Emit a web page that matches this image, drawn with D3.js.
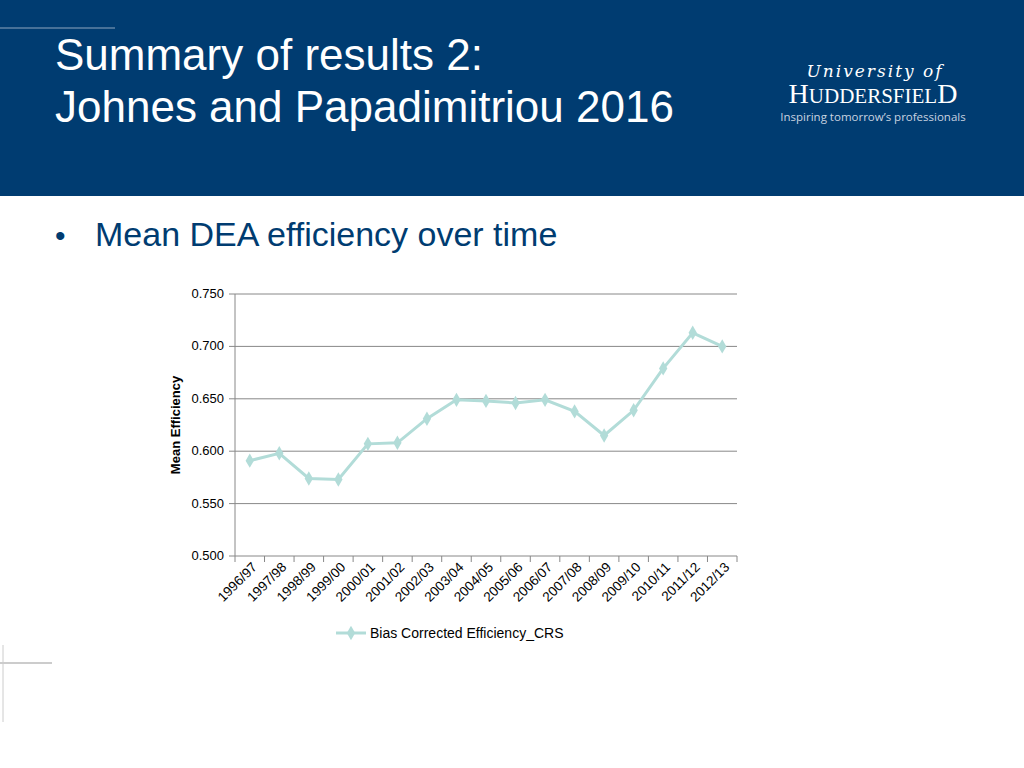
<!DOCTYPE html><html><head><meta charset="utf-8">
<script src="https://cdn.jsdelivr.net/npm/d3@7"></script>
<style>body{margin:0;background:#fff}svg{display:block}</style></head><body>
<svg id="c" width="1024" height="768"></svg>
<script>
const categories=["1996/97","1997/98","1998/99","1999/00","2000/01","2001/02","2002/03","2003/04","2004/05","2005/06","2006/07","2007/08","2008/09","2009/10","2010/11","2011/12","2012/13"];
const values=[0.591,0.598,0.574,0.573,0.607,0.608,0.631,0.649,0.648,0.646,0.649,0.638,0.615,0.639,0.679,0.713,0.700];
const yTicks=[0.5,0.55,0.6,0.65,0.7,0.75];
const seriesName="Bias Corrected Efficiency_CRS";
const svg=d3.select("#c");
svg.append("rect").attr("width",1024).attr("height",196).attr("fill","#003c71");
svg.append("line").attr("x1",0).attr("x2",115).attr("y1",28).attr("y2",28).attr("stroke","#8fa6c0");
svg.append("line").attr("x1",0).attr("x2",52).attr("y1",663).attr("y2",663).attr("stroke","#999");
svg.append("line").attr("x1",3).attr("x2",3).attr("y1",645).attr("y2",722).attr("stroke","#ccc");
const t=svg.append("g").attr("font-family","Liberation Sans, Arial").attr("fill","#fff").attr("font-size",44);
t.append("text").attr("x",55).attr("y",70).text("Summary of results 2:");
t.append("text").attr("x",55).attr("y",122).text("Johnes and Papadimitriou 2016");
svg.append("text").attr("x",875).attr("y",77).attr("text-anchor","middle").attr("fill","#fff").attr("font-family","DejaVu Serif").attr("font-style","italic").attr("font-size",17).attr("letter-spacing",2).text("University of");
const h=svg.append("text").attr("x",873).attr("y",103).attr("text-anchor","middle").attr("fill","#fff").attr("font-family","Liberation Serif").attr("font-size",28);
h.append("tspan").text("H");h.append("tspan").attr("font-size",21).text("UDDERSFIEL");h.append("tspan").text("D");
svg.append("text").attr("x",873).attr("y",121).attr("text-anchor","middle").attr("fill","#c9d3e0").attr("font-family","Open Sans").attr("font-size",11.5).text("Inspiring tomorrow’s professionals");
svg.append("text").attr("x",55).attr("y",246).attr("fill","#003c71").attr("font-family","Liberation Sans, Arial").attr("font-size",30).text("•");
svg.append("text").attr("x",95).attr("y",246).attr("fill","#003c71").attr("font-family","Liberation Sans, Arial").attr("font-size",34).text("Mean DEA efficiency over time");
const x=d3.scaleBand().domain(categories).range([235,737]);
const y=d3.scaleLinear().domain([0.5,0.75]).range([556,294]);
const g=svg.append("g").attr("font-family","Liberation Sans, Arial").attr("font-size",13);
yTicks.forEach(v=>{g.append("line").attr("x1",229).attr("x2",737).attr("y1",y(v)).attr("y2",y(v)).attr("stroke","#888");
 g.append("text").attr("x",224).attr("y",y(v)+4).attr("text-anchor","end").text(d3.format(".3f")(v));});
g.append("line").attr("x1",235).attr("x2",235).attr("y1",294).attr("y2",556).attr("stroke","#888");
categories.concat([null]).forEach((c,i)=>{const xx=235+i*x.step();g.append("line").attr("x1",xx).attr("x2",xx).attr("y1",556).attr("y2",562).attr("stroke","#888");});
categories.forEach(c=>{const cx=x(c)+x.bandwidth()/2+8;g.append("text").attr("transform",`translate(${cx},568) rotate(-45)`).attr("text-anchor","end").attr("font-size",13.5).text(c);});
g.append("text").attr("transform","translate(180,425) rotate(-90)").attr("text-anchor","middle").attr("font-weight","bold").text("Mean Efficiency");
const col="#b2dcd8";
const line=d3.line().x((d,i)=>x(categories[i])+x.bandwidth()/2).y(d=>y(d));
svg.append("path").attr("d",line(values)).attr("fill","none").attr("stroke",col).attr("stroke-width",3);
const sym=d3.symbol().type(d3.symbolDiamond).size(60);
values.forEach((v,i)=>svg.append("path").attr("d",sym()).attr("transform",`translate(${x(categories[i])+x.bandwidth()/2},${y(v)})`).attr("fill",col));
svg.append("line").attr("x1",336).attr("x2",366).attr("y1",633).attr("y2",633).attr("stroke",col).attr("stroke-width",3);
svg.append("path").attr("d",sym()).attr("transform","translate(351,633)").attr("fill",col);
g.append("text").attr("x",370).attr("y",638).attr("font-size",14).text(seriesName);
</script></body></html>
